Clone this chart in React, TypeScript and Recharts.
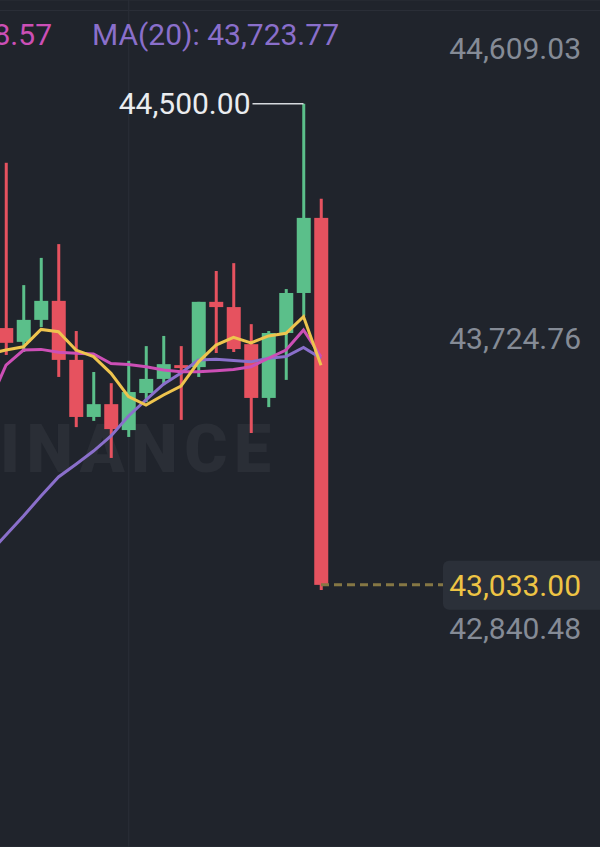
import React from 'react';
import {
  ComposedChart,
  Bar,
  Line,
  XAxis,
  YAxis,
  CartesianGrid,
  ReferenceLine,
  ReferenceDot,
} from 'recharts';

// ---- data ----
// first slot is off-screen on the left: only its moving averages are visible
const candleLabels = [
  'K0', 'K1', 'K2', 'K3', 'K4', 'K5', 'K6', 'K7', 'K8', 'K9',
  'K10', 'K11', 'K12', 'K13', 'K14', 'K15', 'K16', 'K17', 'K18', 'K19',
];
// empty future slots to the right of the last candle
const futureLabels = ['F1', 'F2', 'F3', 'F4', 'F5', 'F6', 'F7'];

const opens = [null, 43816, 43774, 43841, 43899, 43719, 43545, 43584, 43505, 43618, 43661, 43703, 43697, 43896, 43880, 43767, 43603, 43801, 43923, 44152];
const highs = [null, 44320, 43947, 44030, 44072, 43807, 43682, 43648, 43716, 43761, 43792, 43761, 43896, 43990, 44014, 43828, 43807, 43935, 44500, 44210];
const lows = [null, 43734, 43743, 43819, 43667, 43514, 43533, 43420, 43484, 43590, 43642, 43536, 43667, 43740, 43743, 43496, 43575, 43658, 43853, 43017];
const closes = [null, 43771, 43841, 43899, 43719, 43545, 43584, 43508, 43621, 43661, 43706, 43694, 43896, 43880, 43752, 43603, 43801, 43923, 44152, 43033];

const maYellow = [43737, 43749, 43759, 43812, 43805, 43749, 43729, 43678, 43607, 43581, 43612, 43639, 43713, 43764, 43788, 43771, 43792, 43800, 43851, 43703];
const maPink = [43582, 43703, 43749, 43751, 43742, 43739, 43737, 43708, 43705, 43698, 43688, 43683, 43683, 43686, 43690, 43698, 43724, 43749, 43810, 43728.57];
const ma20 = [43127, 43185, 43243, 43304, 43362, 43401, 43441, 43487, 43548, 43597, 43645, 43679, 43719, 43721, 43717, 43713, 43724, 43729, 43757, 43723.77];

const axisTicks = [42840.48, 43724.76, 44609.03];
const axisDomain = [42233.68, 44816.38];
const gridColumnLabel = 'K8';
const watermarkText = 'INANCE';

// ---- styles ----
const BG = '#20242c';
const GRID = '#2a2e37';
const GREEN = '#5bbf8a';
const RED = '#e6525f';
const YELLOW = '#eec44e';
const PINK = '#cc4fb6';
const PURPLE = '#8a6fcb';
const AXIS_TEXT = '#858b96';
const HIGH_TEXT = '#eaecef';
const PRICE_TEXT = '#eec444';
const PRICE_BOX = '#2b3039';
const PRICE_DASH = '#857744';
const WATERMARK = '#2a2e36';
const FONT = 'Roboto, "Noto Sans", sans-serif';
const FS = 30;

const fmt = (v: number) =>
  v.toLocaleString('en-US', { minimumFractionDigits: 2, maximumFractionDigits: 2 });

const n = candleLabels.length;
const lastClose = closes[n - 1] as number;
const highIndex = highs.reduce((best: number, h, i) => (h != null && h > (highs[best] as number) ? i : best), 1);
const highValue = highs[highIndex] as number;

const rows = [...candleLabels, ...futureLabels].map((label, k) => {
  const inData = k < n;
  const has = inData && opens[k] != null;
  return {
    label,
    range: has ? [lows[k], highs[k]] : null,
    open: has ? opens[k] : null,
    high: has ? highs[k] : null,
    low: has ? lows[k] : null,
    close: has ? closes[k] : null,
    maY: inData ? maYellow[k] : null,
    maP: inData ? maPink[k] : null,
    ma20: inData ? ma20[k] : null,
    price: k >= n - 1 ? lastClose : null,
  };
});
const candleRows = rows.filter((r) => r.range != null);

const Candle = (props: any) => {
  const { x, y, width, height, payload } = props;
  if (!payload || payload.open == null) return <g />;
  const { open, close, high, low } = payload;
  const top = Math.min(y, y + height);
  const h = Math.abs(height);
  const ratio = h / (high - low);
  const yOf = (v: number) => top + (high - v) * ratio;
  const up = close >= open;
  const color = up ? GREEN : RED;
  const cx = x + width / 2;
  const b1 = yOf(Math.max(open, close));
  const b2 = yOf(Math.min(open, close));
  return (
    <g>
      <line x1={cx} x2={cx} y1={top} y2={top + h} stroke={color} strokeWidth={3} />
      <rect x={x} y={b1} width={width} height={Math.max(b2 - b1, 2)} fill={color} />
    </g>
  );
};

// vertical grid line drawn in the band background of one column (beneath the candles)
const GridColumn = (props: any) => {
  const { x, y, width, height, index, payload } = props;
  const row = payload && payload.label ? payload : candleRows[index];
  if (!row || row.label !== gridColumnLabel) return <g />;
  const cx = x + width / 2;
  return <line x1={cx} x2={cx} y1={y} y2={y + height} stroke={GRID} strokeWidth={1} />;
};

const AxisLabel = (props: any) => {
  const vb = props.viewBox || {};
  const right = (vb.x || 0) + (vb.width || 0);
  const cy = vb.y || 0;
  return (
    <text x={right - 19} y={cy - 9} textAnchor="end" fill={AXIS_TEXT} fontSize={FS} fontFamily={FONT}>
      {fmt(props.tickValue)}
    </text>
  );
};

const PriceBox = (props: any) => {
  const vb = props.viewBox || {};
  const right = (vb.x || 0) + (vb.width || 0);
  const cy = vb.y || 0;
  return (
    <g>
      <rect x={right - 157} y={cy - 24} width={170} height={49} rx={6} fill={PRICE_BOX} />
      <text x={right - 19} y={cy + 11} textAnchor="end" fill={PRICE_TEXT} fontSize={FS} fontFamily={FONT}>
        {fmt(lastClose)}
      </text>
    </g>
  );
};

const HighMark = (props: any) => {
  const { cx, cy } = props;
  return (
    <g>
      <line x1={cx - 51} x2={cx} y1={cy} y2={cy} stroke="#d6d9de" strokeWidth={1.5} />
      <text x={cx - 53} y={cy + 10.5} textAnchor="end" fill={HIGH_TEXT} fontSize={FS} fontFamily={FONT}>
        {fmt(highValue)}
      </text>
    </g>
  );
};

export default function App() {
  const pinkTail = fmt(maPink[n - 1]).slice(-4);
  const ma20Text = `MA(20): ${fmt(ma20[n - 1])}`;
  return (
    <div
      style={{
        position: 'absolute',
        left: 0,
        top: 0,
        width: 600,
        height: 847,
        overflow: 'hidden',
        background: BG,
      }}
    >
      <svg width={600} height={847} style={{ position: 'absolute', left: 0, top: 0 }}>
        <text x={0} y={472} fill={WATERMARK} fontSize={66} fontWeight={900} fontFamily={FONT} letterSpacing={6.5}>
          {watermarkText}
        </text>
      </svg>
      <div style={{ position: 'absolute', left: 0, top: 10, width: 600, height: 1, background: GRID }} />
      <div style={{ position: 'absolute', left: -30, top: 0 }}>
        <ComposedChart
          width={630}
          height={847}
          data={rows}
          margin={{ top: 0, right: 0, bottom: 0, left: 9.75 }}
        >
          <CartesianGrid vertical={false} stroke={GRID} strokeWidth={1} />
          <XAxis dataKey="label" hide padding={{ left: 0, right: 147.75 }} />
          <YAxis
            orientation="right"
            mirror
            type="number"
            domain={axisDomain}
            allowDataOverflow
            ticks={axisTicks}
            interval={0}
            axisLine={false}
            tickLine={false}
            tick={false}
            width={0}
          />
          {axisTicks.map((v) => (
            <ReferenceLine key={v} y={v} stroke="none" label={<AxisLabel tickValue={v} />} />
          ))}
          <Line
            dataKey="price"
            stroke={PRICE_DASH}
            strokeWidth={3}
            strokeDasharray="8 5"
            dot={false}
            isAnimationActive={false}
          />
          <Bar
            dataKey="range"
            barSize={14}
            shape={<Candle />}
            background={<GridColumn />}
            isAnimationActive={false}
          />
          <Line type="linear" dataKey="ma20" stroke={PURPLE} strokeWidth={3} dot={false} isAnimationActive={false} />
          <Line type="linear" dataKey="maP" stroke={PINK} strokeWidth={3} dot={false} isAnimationActive={false} />
          <Line type="linear" dataKey="maY" stroke={YELLOW} strokeWidth={3} dot={false} isAnimationActive={false} />
          <ReferenceLine y={lastClose} stroke="none" label={<PriceBox />} />
          <ReferenceDot x={candleLabels[highIndex]} y={highValue} r={0} shape={<HighMark />} />
        </ComposedChart>
      </div>
      <svg width={600} height={60} style={{ position: 'absolute', left: 0, top: 0 }}>
        <text x={52} y={45} textAnchor="end" fill={PINK} fontSize={FS} fontFamily={FONT}>
          {pinkTail}
        </text>
        <text x={92} y={45} fill={PURPLE} fontSize={FS} fontFamily={FONT}>
          {ma20Text}
        </text>
      </svg>
    </div>
  );
}
